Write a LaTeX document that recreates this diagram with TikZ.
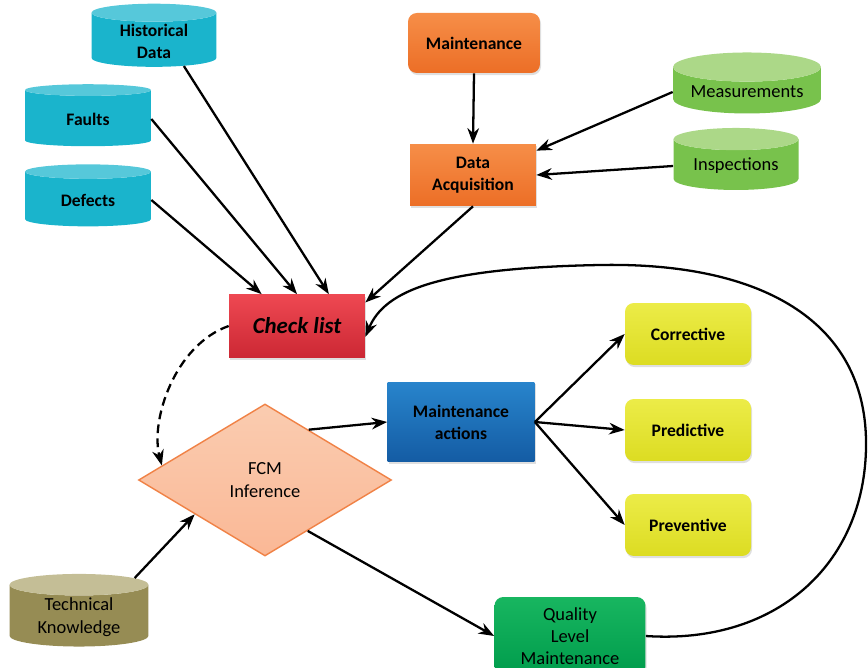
\documentclass[tikz,border=0pt]{standalone}
\usepackage{fontspec}
\setmainfont{Carlito}
\usepackage{tikz}
\usetikzlibrary{arrows.meta, shapes.geometric, shadows}
\definecolor{cyanbody}{RGB}{26,180,204}
\definecolor{cyanend}{RGB}{86,200,218}
\definecolor{greenbody}{RGB}{120,194,76}
\definecolor{greenend}{RGB}{172,216,136}
\definecolor{khakibody}{RGB}{150,140,84}
\definecolor{khakiend}{RGB}{196,190,150}
\definecolor{orangetop}{RGB}{246,142,72}
\definecolor{orangebot}{RGB}{236,110,38}
\definecolor{redtop}{RGB}{238,72,82}
\definecolor{redbot}{RGB}{204,40,52}
\definecolor{bluetop}{RGB}{40,132,204}
\definecolor{bluebot}{RGB}{20,92,164}
\definecolor{yellowtop}{RGB}{236,236,72}
\definecolor{yellowbot}{RGB}{220,220,34}
\definecolor{peachtop}{RGB}{250,204,176}
\definecolor{peachbot}{RGB}{250,184,150}
\definecolor{peachline}{RGB}{240,130,70}
\definecolor{qgreentop}{RGB}{24,182,96}
\definecolor{qgreenbot}{RGB}{0,156,76}

\begin{document}
\begin{tikzpicture}[x=0.02cm, y=-0.02cm, >=Stealth,
  font=\fontsize{10}{12.5}\selectfont,
  softshadow/.style={drop shadow={opacity=0.25, shadow xshift=0.6pt, shadow yshift=-1.2pt}},
  store/.style={cylinder, shape border rotate=90, aspect=0.25, draw=none,
    cylinder uses custom fill, align=center, inner sep=1pt},
  cyanstore/.style={store, cylinder body fill=cyanbody, cylinder end fill=cyanend, font=\fontsize{10}{12.5}\selectfont\bfseries},
  greenstore/.style={store, cylinder body fill=greenbody, cylinder end fill=greenend, font=\fontsize{10.5}{12.5}\selectfont},
  box/.style={rectangle, draw=none, align=center, inner sep=2pt, softshadow, font=\fontsize{10}{12.5}\selectfont\bfseries},
  link/.style={->, line width=1.3pt}
]
\useasboundingbox (0,0) rectangle (868,668);

% data sources
\node[cyanstore, minimum width=2.5cm, minimum height=1.26cm] (hd) at (154,41) {Historical\\Data};
\node[cyanstore, minimum width=2.52cm, minimum height=1.24cm] (ft) at (88,119) {Faults};
\node[cyanstore, minimum width=2.52cm, minimum height=1.24cm] (df) at (88,200) {Defects};
\node[greenstore, minimum width=2.96cm, minimum height=1.22cm] (ms) at (747,92) {Measurements};
\node[greenstore, minimum width=2.5cm, minimum height=1.24cm] (is) at (736,166) {Inspections};
\node[store, cylinder body fill=khakibody, cylinder end fill=khakiend, font=\fontsize{10.5}{13}\selectfont,
  minimum width=2.78cm, minimum height=1.26cm] (tk) at (79,617) {Technical\\Knowledge};

% boxes
\node[box, rounded corners=5pt, top color=orangetop, bottom color=orangebot,
  minimum width=2.64cm, minimum height=1.2cm] (mt) at (474,43) {Maintenance};
\node[box, top color=orangetop, bottom color=orangebot,
  minimum width=2.52cm, minimum height=1.24cm] (da) at (473,175) {Data\\Acquisition};
\node[box, top color=redtop, bottom color=redbot, font=\fontsize{13}{15}\selectfont\bfseries\itshape,
  minimum width=2.72cm, minimum height=1.26cm] (cl) at (297,326) {Check list};
\node[box, top color=bluetop, bottom color=bluebot,
  minimum width=2.94cm, minimum height=1.6cm] (ma) at (461,422) {Maintenance\\actions};
\node[box, rounded corners=5pt, top color=yellowtop, bottom color=yellowbot,
  minimum width=2.52cm, minimum height=1.24cm] (co) at (688,334) {Corrective};
\node[box, rounded corners=5pt, top color=yellowtop, bottom color=yellowbot,
  minimum width=2.52cm, minimum height=1.24cm] (pr) at (688,430) {Predictive};
\node[box, rounded corners=5pt, top color=yellowtop, bottom color=yellowbot,
  minimum width=2.52cm, minimum height=1.24cm] (pv) at (688,525) {Preventive};
\node[diamond, draw=peachline, line width=0.8pt, top color=peachtop, bottom color=peachbot,
  align=center, inner sep=0pt, aspect=1.66, minimum width=5.06cm, minimum height=3.04cm,
  font=\fontsize{10.5}{13}\selectfont] (fcm) at (265,480) {FCM\\Inference};
\node[box, rounded corners=5pt, top color=qgreentop, bottom color=qgreenbot, font=\fontsize{10.5}{12.5}\selectfont\mdseries,
  minimum width=3.02cm, minimum height=1.56cm] (qlm) at (570,636) {Quality\\Level\\Maintenance};

% connectors
\draw[link] (hd.-40) -- (cl.45);
\draw[link] (ft.east) -- (cl.north);
\draw[link] (df.east) -- (cl.138);
\draw[link] (da.south) -- (cl.19);
\draw[link] (mt.south) -- (da.north);
\draw[link] (ms.west) -- (da.21);
\draw[link] (is.west) -- (da.east);
\draw[link, dash pattern=on 5pt off 3pt] (cl.west) .. controls (175,345) and (150,420) .. (fcm.172);
\draw[link] (fcm.49) -- (ma.west);
\draw[link] (ma.east) -- (co.west);
\draw[link] (ma.east) -- (pr.west);
\draw[link] (ma.east) -- (pv.west);
\draw[link] (tk.35) -- (fcm.206);
\draw[link] (fcm.310) -- (qlm.west);
\draw[link] (qlm.east) .. controls (780,645) and (868,560) .. (866,440)
  .. controls (864,320) and (760,262) .. (600,265)
  .. controls (440,268) and (385,290) .. (cl.-9);
\end{tikzpicture}
\end{document}
